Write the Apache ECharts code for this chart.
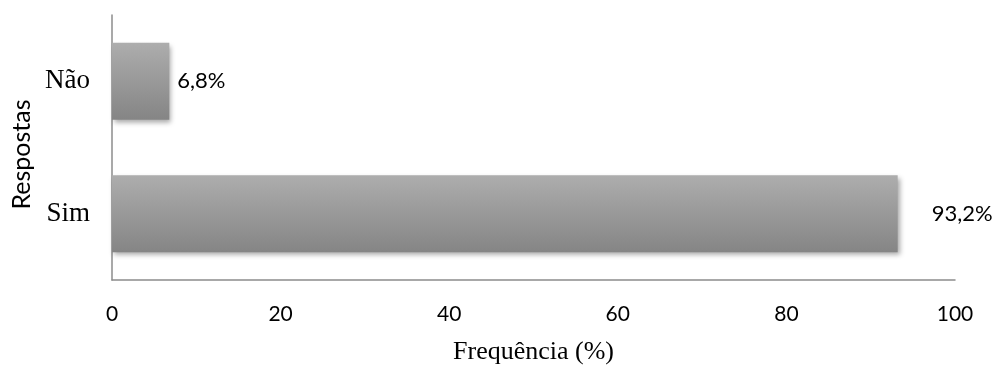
<!DOCTYPE html>
<html>
<head>
<meta charset="utf-8">
<script src="https://cdn.jsdelivr.net/npm/echarts@6/dist/echarts.min.js"></script>
<style>html,body{margin:0;padding:0;background:#fff}#c{width:999px;height:367px}</style>
</head>
<body>
<div id="c"></div>
<script>
var categories = ['Não', 'Sim'];
var values = [6.8, 93.2];
var xTicks = [0, 20, 40, 60, 80, 100];

var chart = echarts.init(document.getElementById('c'));
var grad = new echarts.graphic.LinearGradient(0, 0, 0, 1, [
  {offset: 0, color: '#adadad'},
  {offset: 1, color: '#858585'}
]);
var labelOffsets = [[0, 0], [26, 0]];
chart.setOption({
  animation: false,
  grid: {left: 112, right: 44, top: 15, bottom: 87, outerBoundsMode: 'none', containLabel: false},
  xAxis: {
    type: 'value', min: 0, max: 100, interval: 20,
    axisLine: {show: true, lineStyle: {color: '#8c8c8c', width: 1.5}},
    axisTick: {show: false},
    splitLine: {show: false},
    axisLabel: {margin: 24, color: '#000', fontFamily: 'Lato', fontSize: 21,
      formatter: function (v) { return xTicks.indexOf(v) >= 0 ? String(v) : ''; }},
    name: 'Frequência (%)', nameLocation: 'middle', nameGap: 59,
    nameTextStyle: {fontFamily: 'Liberation Serif', fontSize: 26, color: '#000'}
  },
  yAxis: {
    type: 'category', data: categories, inverse: true,
    axisLine: {show: true, lineStyle: {color: '#8c8c8c', width: 1.5}},
    axisTick: {show: false},
    axisLabel: {margin: 22, color: '#000', fontFamily: 'Liberation Serif', fontSize: 27},
    name: 'Respostas', nameLocation: 'middle', nameGap: 77, nameRotate: 90,
    nameTextStyle: {fontFamily: 'Lato', fontSize: 25, color: '#000', padding: [0, 14, 0, 0]}
  },
  series: [{
    type: 'bar',
    barCategoryGap: '42%',
    data: values.map(function (v, i) {
      return {value: v, label: {offset: labelOffsets[i]}};
    }),
    itemStyle: {color: grad, shadowBlur: 5, shadowOffsetX: 2, shadowOffsetY: 3, shadowColor: 'rgba(0,0,0,0.35)'},
    label: {
      show: true, position: 'right', distance: 8, color: '#000',
      fontFamily: 'Lato', fontSize: 22,
      formatter: function (p) { return String(p.value).replace('.', ',') + '%'; }
    }
  }]
});
</script>
</body>
</html>
